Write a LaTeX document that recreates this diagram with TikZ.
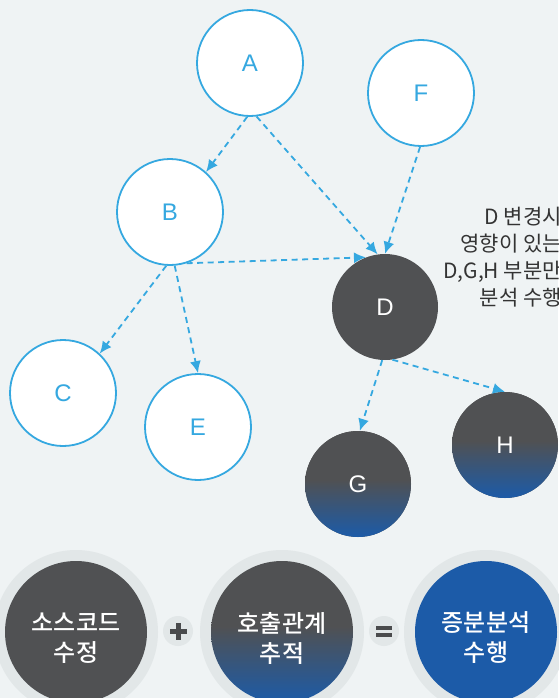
\documentclass[tikz,border=0pt]{standalone}
\usepackage{fontspec}
\setmainfont{Liberation Sans}
\newfontfamily\kr{Noto Sans CJK KR}
\newfontfamily\krm{Noto Sans CJK KR Medium}
\usetikzlibrary{arrows.meta}
\definecolor{bg}{HTML}{EFF3F4}
\definecolor{lineblue}{HTML}{35A8E0}
\definecolor{dgray}{HTML}{505153}
\definecolor{dblue}{HTML}{1C5BA8}
\definecolor{ringgray}{HTML}{E2E7E8}
\definecolor{txt}{HTML}{333333}
\definecolor{symgray}{HTML}{4A4B4D}
\pgfdeclareverticalshading{grayblue}{100bp}{color(0bp)=(dblue); color(25bp)=(dblue); color(52bp)=(dgray); color(100bp)=(dgray)}
\tikzset{
  wnode/.style={circle, draw=lineblue, line width=1.8pt, fill=white, minimum size=106pt, inner sep=0pt, text=lineblue, font=\fontsize{24}{24}\selectfont},
  dnode/.style={circle, fill=dgray, minimum size=106pt, inner sep=0pt, text=white, font=\fontsize{24}{24}\selectfont},
  gnode/.style={dnode, shade, shading=grayblue},
  arr/.style={draw=lineblue, line width=1.8pt, dash pattern=on 6pt off 4.5pt, -{Latex[length=12pt,width=11pt]}},
  ringc/.style={circle, fill=ringgray, minimum size=164pt, inner sep=0pt},
  bignode/.style={circle, minimum size=142pt, inner sep=0pt},
  bigtxt/.style={inner sep=0pt, text=white, align=center, font=\krm\fontsize{24}{30}\selectfont},
  opc/.style={circle, fill=ringgray, minimum size=30pt, inner sep=0pt},
  symbar/.style={fill=symgray}
}
\begin{document}
\begin{tikzpicture}[x=1pt,y=-1pt]
\fill[bg] (0,0) rectangle (558,698);
\useasboundingbox (0,0) rectangle (558,698);

% graph nodes
\node[wnode] (A) at (250,63) {A};
\node[wnode] (F) at (421,93) {F};
\node[wnode] (B) at (170,212) {B};
\node[wnode] (C) at (63,393) {C};
\node[wnode] (E) at (198,427) {E};
\node[dnode] (D) at (385,307) {D};
\node[gnode] (G) at (358,484) {G};
\node[gnode] (H) at (505,445) {H};

% connectors
\draw[arr] (A.-93) -- (B.48);
\draw[arr] (A.-83) -- (D.98);
\draw[arr] (F.-91) -- (D.90);
\draw[arr] (B.-72) -- (D.111);
\draw[arr] (B.-94) -- (C.47);
\draw[arr] (B.-85) -- (E.90);
\draw[arr] (D.-93) -- (G.88);
\draw[arr] (D.-82) -- (H.90);

% note
\node[align=right, anchor=east, inner sep=0pt, text=txt, font=\kr\fontsize{21}{27}\selectfont] (note) at (562,257) {D 변경시\\영향이 있는\\D,G,H 부분만\\분석 수행};

% bottom equation
\node[ringc] (r1) at (76,632) {};
\node[ringc] (r2) at (282,632) {};
\node[ringc] (r3) at (486,632) {};
\node[bignode, fill=dgray] (s1) at (76,632) {};
\node[bignode, shade, shading=grayblue] (s2) at (282,632) {};
\node[bignode, fill=dblue] (s3) at (486,632) {};
\node[bigtxt] (t1) at ([yshift=-6pt]s1.center) {소스코드\\수정};
\node[bigtxt] (t2) at ([yshift=-6pt]s2.center) {호출관계\\추적};
\node[bigtxt] (t3) at ([yshift=-6pt]s3.center) {증분분석\\수행};

\node[opc] (plus) at (178,631) {};
\fill[symbar] ([xshift=-8.5pt,yshift=-2.5pt]plus.center) rectangle ([xshift=8.5pt,yshift=2.5pt]plus.center);
\fill[symbar] ([xshift=-2.5pt,yshift=-8.5pt]plus.center) rectangle ([xshift=2.5pt,yshift=8.5pt]plus.center);

\node[opc] (eq) at (384,631) {};
\fill[symbar] ([xshift=-8pt,yshift=1.5pt]eq.center) rectangle ([xshift=8pt,yshift=5.5pt]eq.center);
\fill[symbar] ([xshift=-8pt,yshift=-1.5pt]eq.center) rectangle ([xshift=8pt,yshift=-5.5pt]eq.center);
\end{tikzpicture}
\end{document}
